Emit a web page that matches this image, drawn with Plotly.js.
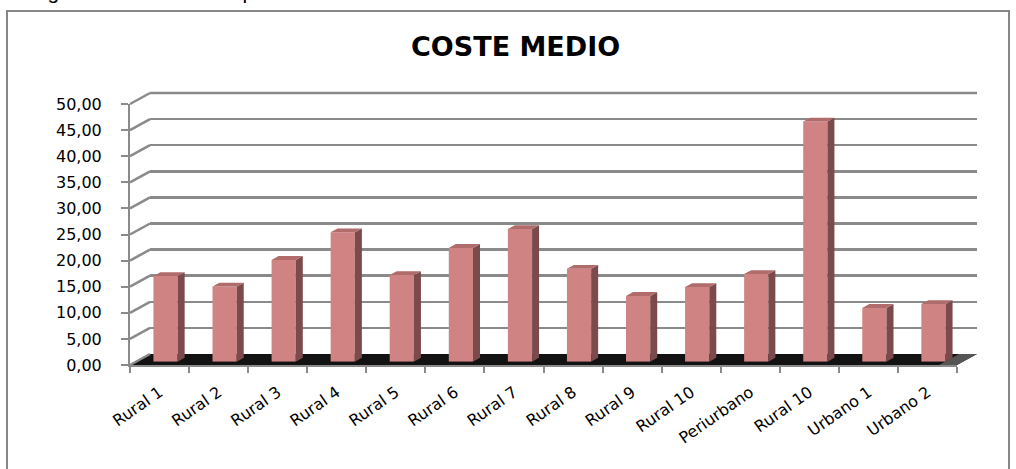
<!DOCTYPE html>
<html>
<head>
<meta charset="utf-8">
<script src="https://cdn.plot.ly/plotly-3.0.1.min.js"></script>
<style>html,body{margin:0;padding:0;background:#fff;}#chart{width:1016px;height:469px;}</style>
</head>
<body>
<div id="chart"></div>
<script>
// ---- data ----
const categories = ["Rural 1","Rural 2","Rural 3","Rural 4","Rural 5","Rural 6","Rural 7","Rural 8","Rural 9","Rural 10","Periurbano","Rural 10","Urbano 1","Urbano 2"];
const costeMedio = [16.4, 14.4, 19.5, 24.8, 16.6, 21.8, 25.4, 17.8, 12.6, 14.3, 16.8, 46.0, 10.3, 11.05];
const yTicks = [0,5,10,15,20,25,30,35,40,45,50];
const chartTitle = "COSTE MEDIO";
const caption = "Figura 6. Coste medio por servicio del Servicio de Salud";

// ---- geometry (pixels) ----
const W = 1016, H = 469;
const px = x => x / W, py = y => 1 - y / H;
const FL = 130, FR = 957, FB = 365, FT = 104;   // front plane
const DX = 20, DY = -11;                        // depth of the 3D box
const n = categories.length;
const idx = categories.map((_, i) => i);
const catPx = (FR - FL) / n, valPx = (FB - FT) / 50;
const BAR_SHIFT = 0.3, BAR_DEPTH = 0.35, BW = 0.41;
const GRID = '#8a8a8a';

// side and top faces of bars (derived from the data values)
const half = BW / 2, sdx = (DX * BAR_DEPTH) / catPx, sdy = (-DY * BAR_DEPTH) / valPx;
const sideX = [], sideY = [], capX = [], capY = [];
idx.forEach(i => {
  const v = costeMedio[i];
  sideX.push(i + half, i + half + sdx, i + half + sdx, i + half, i + half, null);
  sideY.push(0, sdy, v + sdy, v, 0, null);
  capX.push(i - half, i + half, i + half + sdx, i - half + sdx, i - half, null);
  capY.push(v, v, v + sdy, v + sdy, v, null);
});

const traces = [
  {type:'scatter', x:[0], y:[0], xaxis:'x', yaxis:'y', mode:'markers', marker:{opacity:0}, hoverinfo:'skip', showlegend:false},
  {type:'scatter', x:[0], y:[0], xaxis:'x2', yaxis:'y2', mode:'markers', marker:{opacity:0}, hoverinfo:'skip', showlegend:false},
  {type:'scatter', x:[0], y:[0], xaxis:'x4', yaxis:'y2', mode:'markers', marker:{opacity:0}, hoverinfo:'skip', showlegend:false},
  {type:'scatter', x:sideX, y:sideY, xaxis:'x3', yaxis:'y3', mode:'lines', fill:'toself', fillcolor:'#7b4b4b', line:{width:0, color:'#7b4b4b'}, hoverinfo:'skip', showlegend:false},
  {type:'scatter', x:capX, y:capY, xaxis:'x3', yaxis:'y3', mode:'lines', fill:'toself', fillcolor:'#b06b6b', line:{width:0, color:'#b06b6b'}, hoverinfo:'skip', showlegend:false},
  {type:'bar', x:idx, y:costeMedio, xaxis:'x3', yaxis:'y3', width:BW, marker:{color:'#cf8383', line:{width:0}}, showlegend:false, name:chartTitle}
];

// decorations: floor, side wall lines, outer frame
const shapes = [];
shapes.push({type:'rect', xref:'paper', yref:'paper', x0:px(7), x1:px(1009), y0:py(11), y1:py(490), line:{color:'#878787', width:2}, fillcolor:'rgba(0,0,0,0)', layer:'below'});
shapes.push({type:'path', xref:'paper', yref:'paper', layer:'below',
  path:`M ${px(FL)},${py(FB)} L ${px(FL+DX)},${py(FB+DY)} L ${px(FR+DX)},${py(FB+DY)} L ${px(FR)},${py(FB)} Z`,
  fillcolor:'#121212', line:{width:0}});
shapes.push({type:'path', xref:'paper', yref:'paper', layer:'below',
  path:`M ${px(FR-18)},${py(FB)} L ${px(FR-18+DX)},${py(FB+DY)} L ${px(FR+DX)},${py(FB+DY)} L ${px(FR)},${py(FB)} Z`,
  fillcolor:'#555555', line:{width:0}});
yTicks.forEach(v => {
  const yf = FB - v * valPx;
  shapes.push({type:'line', xref:'paper', yref:'paper', x0:px(FL), y0:py(yf), x1:px(FL+DX), y1:py(yf+DY), line:{color:GRID, width:2.5}, layer:'below'});
});
// top back-wall gridline (at the range edge)
shapes.push({type:'line', xref:'paper', yref:'paper', x0:px(FL+DX), y0:py(FT+DY), x1:px(FR+DX), y1:py(FT+DY), line:{color:GRID, width:2.5}, layer:'below'});

const layout = {
  width: W, height: H,
  margin: {l:0, r:0, t:0, b:0},
  paper_bgcolor:'#ffffff', plot_bgcolor:'rgba(0,0,0,0)',
  separators: ',.',
  showlegend: false,
  font: {family:'DejaVu Sans', color:'#000'},
  xaxis: {domain:[px(FL+DX), px(FR+DX)], range:[-0.5, n-0.5], visible:false, anchor:'y'},
  yaxis: {domain:[py(FB+DY), py(FT+DY)], range:[0,50], tickvals:yTicks, showgrid:true, gridcolor:GRID, gridwidth:2.5, zeroline:false, showticklabels:false, ticks:'', showline:false, anchor:'x'},
  xaxis2: {domain:[px(FL), px(FR)], range:[-0.5, n-0.5], anchor:'y2',
    tickvals: idx.map(i => i - 0.5).concat([n - 0.5]), ticktext: idx.map(() => '').concat(['']),
    ticks:'outside', ticklen:6, tickwidth:2, tickcolor:GRID, showline:true, linecolor:GRID, linewidth:2, showgrid:false, zeroline:false},
  xaxis4: {overlaying:'x2', anchor:'y2', side:'bottom', range:[-0.5, n-0.5], tickvals: idx, ticktext: categories,
    ticks:'', tickangle:-35, tickfont:{family:'DejaVu Sans', size:16, color:'#000'}, showline:false, showgrid:false, zeroline:false, ticklabelstandoff:14},
  yaxis2: {domain:[py(FB), py(FT)], range:[0,50], anchor:'x2', tickvals:yTicks, tickformat:'.2f',
    ticks:'outside', ticklen:7, tickwidth:2, tickcolor:GRID, showline:true, linecolor:GRID, linewidth:2, showgrid:false, zeroline:false,
    tickfont:{family:'DejaVu Sans', size:16, color:'#000'}, ticklabelstandoff:16},
  xaxis3: {domain:[px(FL+DX*BAR_SHIFT), px(FR+DX*BAR_SHIFT)], range:[-0.5, n-0.5], visible:false, anchor:'y3'},
  yaxis3: {domain:[py(FB+DY*BAR_SHIFT), py(FT+DY*BAR_SHIFT)], range:[0,50], visible:false, anchor:'x3'},
  shapes: shapes,
  annotations: [
    {text:'<b>' + chartTitle + '</b>', xref:'paper', yref:'paper', x:px(515), y:py(46), xanchor:'center', yanchor:'middle', showarrow:false, font:{family:'DejaVu Sans', size:27, color:'#000'}},
    {text:caption, xref:'paper', yref:'paper', x:px(28), y:1, xanchor:'left', yanchor:'bottom', yshift:-5, showarrow:false, font:{family:'Liberation Sans', size:21, color:'#000'}}
  ]
};

Plotly.newPlot('chart', traces, layout, {staticPlot:true, displayModeBar:false});
</script>
</body>
</html>
